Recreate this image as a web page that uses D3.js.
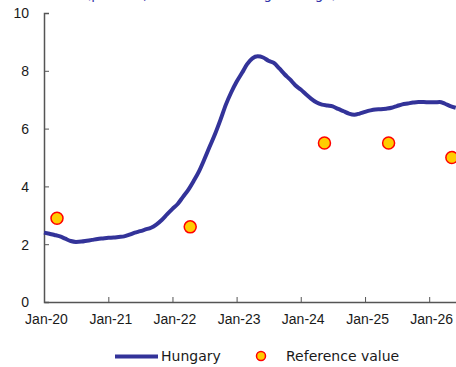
<!DOCTYPE html>
<html>
<head>
<meta charset="utf-8">
<script src="https://cdn.jsdelivr.net/npm/d3@7"></script>
<style>
  html, body { margin: 0; padding: 0; background: #fff; }
  svg { display: block; font-family: "DejaVu Sans", Verdana, sans-serif; }
</style>
</head>
<body>
<svg id="chart" width="456" height="367"></svg>
<script>
// Hungary: 12-month moving average inflation, monthly from Jan-2020
const startMonth = "2020-01";
const hungary = [
  2.40, 2.36, 2.32, 2.27, 2.19, 2.11, 2.08, 2.09, 2.12, 2.15, 2.18, 2.20,
  2.22, 2.23, 2.25, 2.27, 2.33, 2.40, 2.45, 2.51, 2.57, 2.68, 2.84, 3.03,
  3.22, 3.40, 3.63, 3.88, 4.18, 4.52, 4.93, 5.38, 5.82, 6.30, 6.83, 7.25,
  7.62, 7.93, 8.22, 8.43, 8.50, 8.46, 8.35, 8.27, 8.08, 7.88, 7.70, 7.50,
  7.35, 7.18, 7.03, 6.90, 6.83, 6.80, 6.77, 6.68, 6.60, 6.52, 6.48, 6.52,
  6.58, 6.63, 6.66, 6.67, 6.69, 6.72, 6.78, 6.84, 6.87, 6.90, 6.92, 6.92,
  6.91, 6.91, 6.92, 6.86, 6.78, 6.72
];

// Reference value points
const refDates = ["2020-03-15", "2022-04-12", "2024-05-15", "2025-05-15", "2026-05-10"];
const refValues = [2.9, 2.6, 5.5, 5.5, 5.0];

const xTickLabels = ["Jan-20", "Jan-21", "Jan-22", "Jan-23", "Jan-24", "Jan-25", "Jan-26"];
const yTicks = [0, 2, 4, 6, 8, 10];
const titleText = "(percent, 12-month moving average)";
const legendLabels = ["Hungary", "Reference value"];

const lineColor = "#333399";
const dotFill = "#ffcc00";
const dotStroke = "#ff0000";
const axisColor = "#555555";
const textColor = "#1a1a1a";

const parse = d3.timeParse("%Y-%m-%d");
const t0 = parse(startMonth + "-01");
const lineData = hungary.map((v, i) => ({ date: d3.timeMonth.offset(t0, i), value: v }));
const refData = refDates.map((d, i) => ({ date: parse(d), value: refValues[i] }));
const tickDates = xTickLabels.map((_, i) => d3.timeYear.offset(t0, i));

const svg = d3.select("#chart");

const x = d3.scaleTime()
  .domain([t0, parse("2026-07-01")])
  .range([44, 461]);
const y = d3.scaleLinear().domain([0, 10]).range([302, 13]);

// Title: runs above the top edge of the frame, only its lowest strokes show
svg.append("text")
  .attr("x", 86).attr("y", -1)
  .attr("fill", "#3333aa")
  .style("font-size", "13.5px")
  .text(titleText);

// Y axis with inward ticks
const yAxis = svg.append("g")
  .attr("transform", `translate(${x.range()[0]},0)`)
  .call(d3.axisLeft(y).tickValues(yTicks).tickSizeInner(-5).tickSizeOuter(-5).tickPadding(15));
yAxis.select(".domain").attr("stroke", axisColor).attr("stroke-width", 1.5);
yAxis.selectAll(".tick line").attr("stroke", axisColor).attr("stroke-width", 1);
yAxis.selectAll(".tick text")
  .attr("fill", textColor).style("font-size", "14px").attr("dy", "0.35em");

// X axis with inward ticks
const xAxis = svg.append("g")
  .attr("transform", `translate(0,${y(0)})`)
  .call(d3.axisBottom(x).tickValues(tickDates).tickSizeInner(-5).tickSizeOuter(0)
    .tickFormat((d, i) => xTickLabels[i]).tickPadding(12));
xAxis.select(".domain").attr("stroke", axisColor).attr("stroke-width", 1.5);
xAxis.selectAll(".tick line").attr("stroke", axisColor).attr("stroke-width", 1);
xAxis.selectAll(".tick text")
  .attr("fill", textColor).style("font-size", "14px").attr("dx", "2");

// Hungary line
const line = d3.line()
  .x(d => x(d.date))
  .y(d => y(d.value))
  .curve(d3.curveMonotoneX);
svg.append("path")
  .datum(lineData)
  .attr("d", line)
  .attr("fill", "none")
  .attr("stroke", lineColor)
  .attr("stroke-width", 4)
  .attr("stroke-linejoin", "round");

// Reference value dots
svg.append("g").selectAll("circle")
  .data(refData)
  .join("circle")
  .attr("cx", d => x(d.date))
  .attr("cy", d => y(d.value))
  .attr("r", 6)
  .attr("fill", dotFill)
  .attr("stroke", dotStroke)
  .attr("stroke-width", 1.5);

// Legend
const legend = svg.append("g");
legend.append("line")
  .attr("x1", 115).attr("x2", 158).attr("y1", 356.5).attr("y2", 356.5)
  .attr("stroke", lineColor).attr("stroke-width", 4);
legend.append("text")
  .attr("x", 161).attr("y", 356.5).attr("dy", "0.35em")
  .attr("fill", textColor).style("font-size", "14px")
  .text(legendLabels[0]);
legend.append("circle")
  .attr("cx", 261).attr("cy", 356).attr("r", 4.5)
  .attr("fill", dotFill).attr("stroke", dotStroke).attr("stroke-width", 1.5);
legend.append("text")
  .attr("x", 286).attr("y", 356.5).attr("dy", "0.35em")
  .attr("fill", textColor).style("font-size", "14px")
  .text(legendLabels[1]);
</script>
</body>
</html>
